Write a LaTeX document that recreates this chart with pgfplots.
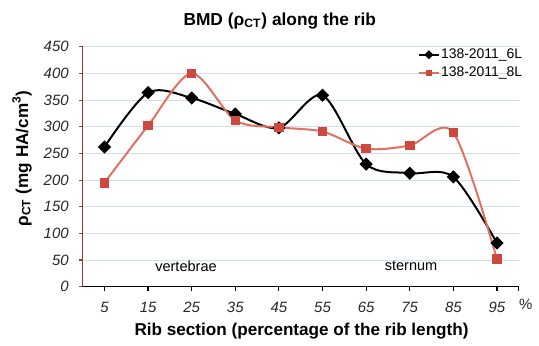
\documentclass[border=0pt]{standalone}
\usepackage{fontspec}
\setmainfont{Liberation Sans}
\usepackage{pgfplots}
\pgfplotsset{compat=1.18}
\definecolor{redline}{RGB}{224,112,96}
\definecolor{redmark}{RGB}{205,72,62}
\definecolor{gridblue}{RGB}{208,223,238}
\definecolor{yaxcol}{RGB}{150,60,45}
\definecolor{ticktext}{RGB}{40,40,40}
\begin{document}
\begin{tikzpicture}
\begin{axis}[
  scale only axis, width=219pt, height=120.5pt,
  xmin=-0.5, xmax=9.5, ymin=0, ymax=450,
  axis x line*=bottom, axis y line*=left,
  x axis line style={draw=black, line width=0.7pt},
  y axis line style={draw=yaxcol, line width=0.7pt},
  xtick={0,1,2,3,4,5,6,7,8,9},
  xticklabels={5,15,25,35,45,55,65,75,85,95},
  extra x ticks={9.5}, extra x tick labels={},
  ytick={0,50,100,150,200,250,300,350,400,450},
  tick align=outside, major tick length=2pt,
  xtick style={draw=black, line width=0.6pt},
  ytick style={draw=yaxcol, line width=0.6pt},
  ymajorgrids, grid style={draw=gridblue, line width=0.5pt},
  /pgf/number format/assume math mode=true,
  ticklabel style={font=\fontsize{7.5}{9}\selectfont\itshape, text=ticktext},
  xticklabel style={yshift=-2pt},
  yticklabel style={xshift=-1.5pt},
  clip=false,
  xlabel={\textbf{Rib section (percentage of the rib length)}},
  xlabel style={at={(rel axis cs:0.502,-0.183)}, anchor=center, font=\fontsize{8.6}{10}\selectfont},
  ylabel={\textbf{ρ\textsubscript{CT} (mg HA/cm\textsuperscript{3})}},
  ylabel style={at={(rel axis cs:-0.139,0.535)}, anchor=center, font=\fontsize{8.6}{10}\selectfont},
  legend style={at={(rel axis cs:0.768,1.0)}, anchor=north west, draw=none, fill=none,
    inner sep=0pt, row sep=1.5pt, font=\fontsize{7}{8}\selectfont,
    nodes={inner sep=0.6pt}},
  legend cell align=left,
  legend image code/.code={\draw[mark repeat=2,mark phase=2, every mark/.append style={scale=0.6}] plot coordinates {(0pt,0pt)(5pt,0pt)(10pt,0pt)};},
]
\addplot[black, line width=1pt, smooth, tension=0.5, mark=square*, mark size=1.85pt,
  mark options={rotate=45, fill=black, draw=black, solid}]
  coordinates {(0,262)(1,364)(2,354)(3,324)(4,298)(5,359)(6,230)(7,213)(8,206)(9,82)};
\addlegendentry{138-2011\_6L}
\addplot[redline, line width=1pt, smooth, tension=0.5, mark=square*, mark size=1.9pt,
  mark options={fill=redmark, draw=redmark, solid}]
  coordinates {(0,195)(1,302)(2,400)(3,312)(4,299)(5,291)(6,259)(7,265)(8,289)(9,52)};
\addlegendentry{138-2011\_8L}
\node[font=\fontsize{8.7}{10}\selectfont\bfseries, anchor=center] at (rel axis cs:0.452,1.108) {BMD (ρ\textsubscript{CT}) along the rib};
\node[font=\fontsize{7.3}{9}\selectfont, anchor=center] at (axis cs:1.87,39) {vertebrae};
\node[font=\fontsize{7.3}{9}\selectfont, anchor=center] at (axis cs:7.03,39) {sternum};
\node[font=\fontsize{7.5}{9}\selectfont, text=ticktext, anchor=center] at (rel axis cs:1.016,-0.075) {\%};
\path (rel axis cs:-0.1895,-0.2365) rectangle (rel axis cs:1.041,1.195);
\end{axis}
\end{tikzpicture}
\end{document}
